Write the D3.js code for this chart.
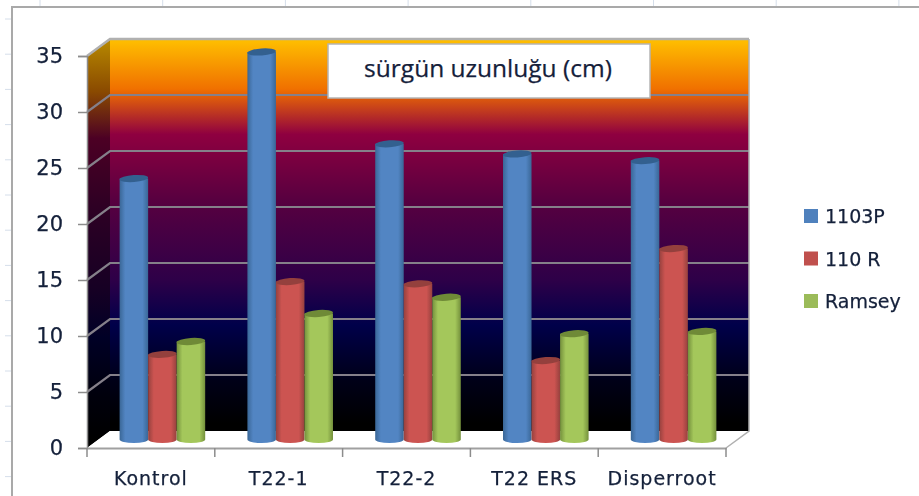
<!DOCTYPE html>
<html>
<head>
<meta charset="utf-8">
<script src="https://cdn.jsdelivr.net/npm/d3@7"></script>
<style>
  html, body { margin: 0; padding: 0; background: #fff; overflow: hidden; }
  svg { display: block; filter: blur(0.6px); }
  text { font-family: "DejaVu Sans", sans-serif; fill: #14203a; stroke: #14203a; stroke-width: 0.25px; }
  .tick text { font-family: "DejaVu Sans", sans-serif; }
</style>
</head>
<body>
<div id="chart"></div>
<script>
const categories = ['Kontrol', 'T22-1', 'T22-2', 'T22 ERS', 'Disperroot']
const seriesNames = ['1103P', '110 R', 'Ramsey']
const seriesValues = {
  '1103P': [23.3, 34.6, 26.4, 25.5, 24.9],
  '110 R': [7.6, 14.1, 13.9, 7.05, 17.05],
  'Ramsey': [8.75, 11.25, 12.7, 9.45, 9.65]
}
const yTicks = [0, 5, 10, 15, 20, 25, 30, 35]
const chartTitle = 'sürgün uzunluğu (cm)'

const width = 919, height = 496
const colors = {
  '1103P': { edge: '#3a6797', mid: '#5285c3', top: '#33608f', key: '#4f81bd' },
  '110 R': { edge: '#96413e', mid: '#cc5451', top: '#94403d', key: '#c0504d' },
  'Ramsey': { edge: '#74903c', mid: '#a4c75b', top: '#6f8a37', key: '#9bbb59' }
}

const svg = d3.select('#chart').append('svg')
  .attr('width', width)
  .attr('height', height)

// front plane scales, the back wall sits depth px up and to the right
const depth = { x: 23, y: 17 }
const x = d3.scaleBand().domain(categories).range([87, 726])
const y = d3.scaleLinear().domain([0, 35]).range([448, 56])

const defs = svg.append('defs')

const wallStops = [[0, '#ffc000'], [0.128, '#f07000'], [0.243, '#8f0040'], [0.41, '#580040'],
  [0.614, '#2e0048'], [0.729, '#00004a'], [0.87, '#000018'], [0.98, '#000000']]
const sideStops = [[0, '#b88a00'], [0.128, '#8a4a00'], [0.243, '#4c0024'], [0.41, '#2e0024'],
  [0.614, '#160024'], [0.729, '#000026'], [0.87, '#00000c'], [0.98, '#000000']]

const addGrad = (id, stops) => {
  defs.append('linearGradient')
    .attr('id', id)
    .attr('x1', 0).attr('x2', 0).attr('y1', 0).attr('y2', 1)
    .selectAll('stop')
    .data(stops)
    .join('stop')
    .attr('offset', d => d[0])
    .attr('stop-color', d => d[1])
}
addGrad('wall', wallStops)
addGrad('side', sideStops)

seriesNames.forEach((name, i) => {
  const g = defs.append('linearGradient')
    .attr('id', 'cyl' + i)
    .attr('x1', 0).attr('x2', 1).attr('y1', 0).attr('y2', 0)
  g.selectAll('stop')
    .data([[0, colors[name].edge], [0.2, colors[name].mid], [0.8, colors[name].mid], [1, colors[name].edge]])
    .join('stop')
    .attr('offset', d => d[0])
    .attr('stop-color', d => d[1])
})

// sheet behind the chart
const sheetCols = d3.range(40, width, 122.7)
const sheetRows = d3.range(19, height, 35.2)
svg.selectAll('.sheetCol')
  .data(sheetCols)
  .join('line')
  .attr('class', 'sheetCol')
  .attr('x1', d => d).attr('x2', d => d)
  .attr('y1', 0).attr('y2', 6)
  .attr('stroke', '#d5deea')
svg.selectAll('.sheetRow')
  .data(sheetRows)
  .join('line')
  .attr('class', 'sheetRow')
  .attr('x1', 5).attr('x2', 11)
  .attr('y1', d => d).attr('y2', d => d)
  .attr('stroke', '#d5deea')
svg.append('path')
  .attr('d', `M12,${height}V7H${width}`)
  .attr('fill', 'none')
  .attr('stroke', '#a9a9a9')
  .attr('stroke-width', 2)

// walls and floor
const left = x.range()[0], right = x.range()[1]
const points = a => a.map(p => p.join(',')).join(' ')

svg.append('polygon')
  .attr('points', points([[left + depth.x, y(35) - depth.y], [right + depth.x, y(35) - depth.y],
    [right + depth.x, y(0) - depth.y], [left + depth.x, y(0) - depth.y]]))
  .attr('fill', 'url(#wall)')
svg.append('polygon')
  .attr('points', points([[left, y(35)], [left + depth.x, y(35) - depth.y],
    [left + depth.x, y(0) - depth.y], [left, y(0)]]))
  .attr('fill', 'url(#side)')
svg.append('polygon')
  .attr('points', points([[left, y(0)], [left + depth.x, y(0) - depth.y],
    [right + depth.x, y(0) - depth.y], [right, y(0)]]))
  .attr('fill', '#fff')

// gridlines run along the side wall and then the back wall
svg.selectAll('.grid')
  .data(yTicks.slice(1))
  .join('polyline')
  .attr('class', 'grid')
  .attr('points', d => points([[left, y(d)], [left + depth.x, y(d) - depth.y], [right + depth.x, y(d) - depth.y]]))
  .attr('fill', 'none')
  .attr('stroke', d => d === 35 ? '#b0b0b0' : '#85808a')
  .attr('stroke-width', d => d === 35 ? 2.5 : 2.2)

svg.append('path')
  .attr('d', `M${right + depth.x},${y(35) - depth.y}V${y(0) - depth.y}L${right},${y(0)}`)
  .attr('fill', 'none')
  .attr('stroke', '#b0b0b0')
  .attr('stroke-width', 1.5)

// cylinders stand half way into the depth
const inner = d3.scaleBand().domain(seriesNames).range([0, x.bandwidth()]).paddingOuter(0.74).paddingInner(0)
const groups = svg.selectAll('.series')
  .data(seriesNames)
  .join('g')
  .attr('class', 'series')
  .attr('transform', `translate(${depth.x / 2},${-depth.y / 2})`)

categories.forEach((cat, c) => {
  seriesNames.forEach((name, s) => {
    const g = groups.filter(d => d === name)
    const v = seriesValues[name][c]
    const bx = x(cat) + inner(name)
    const w = inner.bandwidth()
    const ry = 3.5
    const yt = y(v), yb = y(0)
    g.append('path')
      .attr('d', `M${bx},${yt}V${yb}A${w / 2},${ry} 0 0 0 ${bx + w},${yb}V${yt}Z`)
      .attr('fill', `url(#cyl${s})`)
    g.append('ellipse')
      .attr('cx', bx + w / 2)
      .attr('cy', yt)
      .attr('rx', w / 2)
      .attr('ry', ry)
      .attr('transform', `rotate(-4,${bx + w / 2},${yt})`)
      .attr('fill', colors[name].top)
  })
})

// axes
const yAxis = d3.axisLeft(y).tickValues(yTicks).tickSize(9).tickPadding(15)
const yG = svg.append('g')
  .attr('transform', `translate(${left},0)`)
  .call(yAxis)
yG.select('.domain').attr('stroke', '#8c8c8c').attr('stroke-width', 1.5)
yG.selectAll('.tick line').attr('stroke', '#8c8c8c').attr('stroke-width', 1.5)
yG.selectAll('text').style('font-size', '21px')

const xAxis = d3.axisBottom(x).tickSize(0).tickPadding(24)
const xG = svg.append('g')
  .attr('transform', `translate(0,${y(0)})`)
  .call(xAxis)
xG.select('.domain').attr('stroke', '#a0a0a0').attr('stroke-width', 2)
xG.selectAll('text').style('font-size', '19px').style('letter-spacing', '1px')
xG.selectAll('.boundary')
  .data(categories.map(d => x(d)).concat(right))
  .join('line')
  .attr('class', 'boundary')
  .attr('x1', d => d).attr('x2', d => d)
  .attr('y1', 0).attr('y2', 9)
  .attr('stroke', '#8c8c8c')
  .attr('stroke-width', 1.5)

// title box
svg.append('rect')
  .attr('x', 328).attr('y', 44)
  .attr('width', 322).attr('height', 54)
  .attr('fill', '#fff')
  .attr('stroke', '#b4b4b4')
  .attr('stroke-width', 1.5)
svg.append('text')
  .attr('x', 488).attr('y', 77)
  .attr('text-anchor', 'middle')
  .style('font-family', '"Open Sans", sans-serif')
  .style('font-size', '24.5px')
  .text(chartTitle)

// legend
const legendY = d3.scalePoint().domain(seriesNames).range([216, 301])
const legend = svg.selectAll('.legend')
  .data(seriesNames)
  .join('g')
  .attr('class', 'legend')
  .attr('transform', d => `translate(804,${legendY(d)})`)
legend.append('rect')
  .attr('y', -7)
  .attr('width', 14).attr('height', 14)
  .attr('fill', d => colors[d].key)
legend.append('text')
  .attr('x', 21).attr('y', 7)
  .style('font-size', '19px')
  .text(d => d)
</script>
</body>
</html>
